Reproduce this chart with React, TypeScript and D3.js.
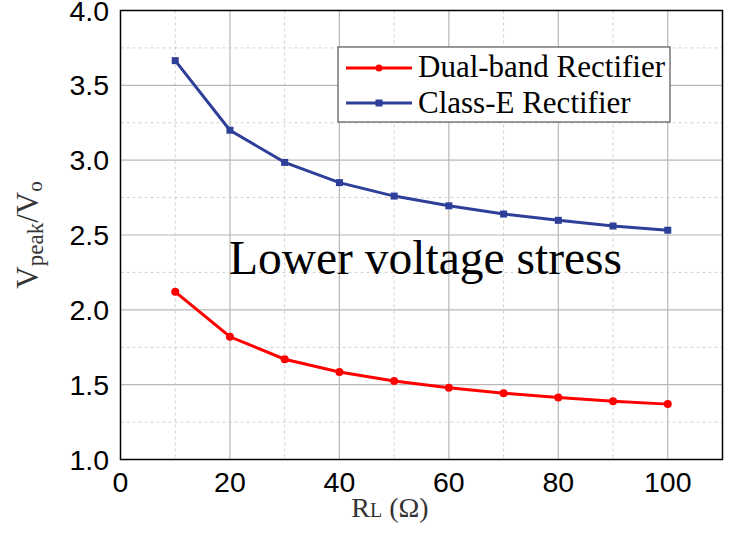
import React from "react";
import * as d3 from "d3";

const xValues = [10, 20, 30, 40, 50, 60, 70, 80, 90, 100];
const dualBand = [2.12, 1.82, 1.67, 1.585, 1.525, 1.48, 1.443, 1.415, 1.39, 1.37];
const classE = [3.665, 3.2, 2.985, 2.85, 2.76, 2.695, 2.64, 2.598, 2.56, 2.532];
const xTicks = [0, 20, 40, 60, 80, 100];
const yTicks = [1.0, 1.5, 2.0, 2.5, 3.0, 3.5, 4.0];
const seriesNames = ["Dual-band Rectifier", "Class-E Rectifier"];

const W = 732;
const H = 535;
const left = 120.5;
const right = 722.5;
const top = 10.5;
const bottom = 459.5;

export default function App() {
  const x = d3.scaleLinear().domain([0, 110]).range([left, right]);
  const y = d3.scaleLinear().domain([1, 4]).range([bottom, top]);
  const line = d3
    .line<number>()
    .x((_, i) => x(xValues[i]))
    .y((d) => y(d));
  const minorX = d3.range(10, 110, 20);
  const majorX = d3.range(20, 110, 20);
  const minorY = d3.range(1.25, 4, 0.5);
  const majorY = d3.range(1.5, 4, 0.5);
  const red = "#ff0000";
  const blue = "#2e3f9a";
  const tickFont = "'Liberation Sans', Arial, sans-serif";
  const serif = "'Liberation Serif', 'Times New Roman', serif";
  return (
    <svg width={W} height={H} style={{ position: "absolute", left: 0, top: 0 }}>
      <rect x={0} y={0} width={W} height={H} fill="#fff" />
      {minorX.map((v) => (
        <line key={"mx" + v} x1={x(v)} x2={x(v)} y1={top} y2={bottom} stroke="#d0d0d0" strokeDasharray="3,3" strokeWidth={1} />
      ))}
      {minorY.map((v) => (
        <line key={"my" + v} x1={left} x2={right} y1={y(v)} y2={y(v)} stroke="#d0d0d0" strokeDasharray="3,3" strokeWidth={1} />
      ))}
      {majorX.map((v) => (
        <line key={"Mx" + v} x1={x(v)} x2={x(v)} y1={top} y2={bottom} stroke="#b8b8b8" strokeWidth={1.2} />
      ))}
      {majorY.map((v) => (
        <line key={"My" + v} x1={left} x2={right} y1={y(v)} y2={y(v)} stroke="#b8b8b8" strokeWidth={1.2} />
      ))}
      <rect x={left} y={top} width={right - left} height={bottom - top} fill="none" stroke="#000" strokeWidth={1.5} />
      {yTicks.map((v) => (
        <text key={"yt" + v} x={109} y={y(v) + 10} textAnchor="end" fontFamily={tickFont} fontSize={28.5} fill="#000">
          {v.toFixed(1)}
        </text>
      ))}
      {xTicks.map((v) => (
        <text key={"xt" + v} x={x(v)} y={492} textAnchor="middle" fontFamily={tickFont} fontSize={28.5} fill="#000">
          {v}
        </text>
      ))}
      <path d={line(classE) || ""} fill="none" stroke={blue} strokeWidth={3} />
      {classE.map((v, i) => (
        <rect key={"cs" + i} x={x(xValues[i]) - 3.5} y={y(v) - 3.5} width={7} height={7} fill={blue} />
      ))}
      <path d={line(dualBand) || ""} fill="none" stroke={red} strokeWidth={3} />
      {dualBand.map((v, i) => (
        <circle key={"dc" + i} cx={x(xValues[i])} cy={y(v)} r={4} fill={red} />
      ))}
      <text x={425.5} y={274} textAnchor="middle" fontFamily={serif} fontSize={47.5} fill="#000">
        Lower voltage stress
      </text>
      <g>
        <rect x={338} y={47} width={332} height={75} fill="#fff" stroke="#555" strokeWidth={1.2} />
        <line x1={346} x2={412} y1={68} y2={68} stroke={red} strokeWidth={3} />
        <circle cx={379} cy={68} r={3.5} fill={red} />
        <text x={418} y={76.5} fontFamily={serif} fontSize={31} fill="#000">{seriesNames[0]}</text>
        <line x1={346} x2={412} y1={103} y2={103} stroke={blue} strokeWidth={3} />
        <rect x={375.5} y={99.5} width={7} height={7} fill={blue} />
        <text x={418} y={112.5} fontFamily={serif} fontSize={31} fill="#000">{seriesNames[1]}</text>
      </g>
      <text transform="translate(38,235) rotate(-90)" textAnchor="middle" fontFamily={serif} fontSize={31} fill="#333">
        <tspan>V</tspan>
        <tspan fontSize={23} dy={5}>peak</tspan>
        <tspan dy={-5}>/V</tspan>
        <tspan fontSize={21} dy={4}>o</tspan>
      </text>
      <text x={390} y={517} textAnchor="middle" fontFamily={serif} fontSize={28} fill="#333">
        <tspan>R</tspan>
        <tspan fontSize={20}>L</tspan>
        <tspan> (Ω)</tspan>
      </text>
    </svg>
  );
}
